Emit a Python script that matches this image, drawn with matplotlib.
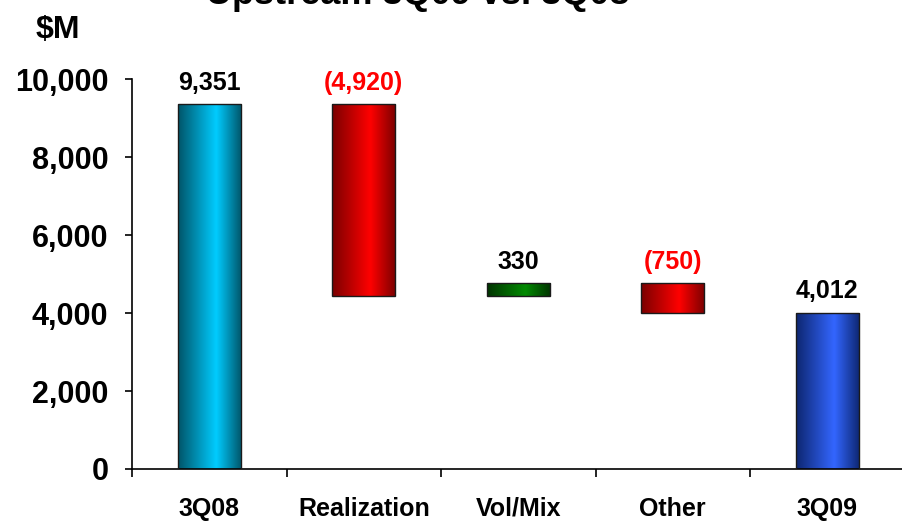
import numpy as np
import matplotlib
matplotlib.use('Agg')
import matplotlib.pyplot as plt
from matplotlib.colors import LinearSegmentedColormap

plt.rcParams['font.family'] = ['Liberation Sans', 'DejaVu Sans']
plt.rcParams['font.weight'] = 'bold'

# waterfall: start, changes, end ($M)
categories = ['3Q08', 'Realization', 'Vol/Mix', 'Other', '3Q09']
changes = [9351, -4920, 330, -750, 4012]
labels = ['9,351', '(4,920)', '330', '(750)', '4,012']
yticks = [0, 2000, 4000, 6000, 8000, 10000]
ytick_labels = ['0', '2,000', '4,000', '6,000', '8,000', '10,000']

# dark edge / bright centre shades for each bar
shades = [('#005468', '#00CCFF'), ('#7A0000', '#FF0000'), ('#003300', '#008A00'),
          ('#7A0000', '#FF0000'), ('#0D2670', '#3366FF')]
label_colors = ['black', 'red', 'black', 'red', 'black']

# bar bottoms: totals sit on zero, steps float on the running total
bottoms = []
heights = []
running = 0
for i, v in enumerate(changes):
    if i == 0 or i == len(changes) - 1:
        bottoms.append(0)
        heights.append(v)
        running = v
    else:
        if v >= 0:
            bottoms.append(running)
        else:
            bottoms.append(running + v)
        heights.append(abs(v))
        running += v

fig = plt.figure(figsize=(9.02, 5.21), dpi=100)
ax = fig.add_axes([132 / 902, 52 / 521, 772.5 / 902, 390 / 521])

x = np.arange(len(categories))
bars = ax.bar(x, heights, bottom=bottoms, width=0.41, facecolor='none',
              edgecolor='#1a1a1a', linewidth=1.0, zorder=3)

grad = np.linspace(0, 1, 256).reshape(1, -1)
for bar, (dark, bright) in zip(bars, shades):
    cmap = LinearSegmentedColormap.from_list(
        'g', [(0, dark), (0.6, bright), (1, dark)])
    x0 = bar.get_x()
    x1 = x0 + bar.get_width()
    y0 = bar.get_y()
    y1 = y0 + bar.get_height()
    im = ax.imshow(grad, extent=[x0, x1, y0, y1], aspect='auto', cmap=cmap,
                   interpolation='bicubic', zorder=2)
    im.set_clip_path(bar)

for bar, lab, col in zip(bars, labels, label_colors):
    top = bar.get_y() + bar.get_height()
    ax.text(bar.get_x() + bar.get_width() / 2, top + 250, lab, ha='center',
            va='bottom', fontsize=18, fontweight='bold', color=col)

ax.set_xlim(-0.5, len(categories) - 0.5)
ax.set_ylim(0, 10000)

ax.set_yticks(yticks)
ax.set_yticklabels(ytick_labels, fontsize=22, fontweight='bold')
ax.tick_params(axis='y', direction='out', length=5, width=1.2, pad=12)

ax.set_xticks(x)
ax.set_xticklabels(categories, fontsize=18, fontweight='bold')
ax.set_xticks(np.arange(len(categories) + 1) - 0.5, minor=True)
ax.tick_params(axis='x', which='major', length=0, pad=20)
ax.tick_params(axis='x', which='minor', direction='out', length=6, width=1.2)

for side in ['top', 'right']:
    ax.spines[side].set_visible(False)
for side in ['left', 'bottom']:
    ax.spines[side].set_linewidth(1.2)

fig.text(36 / 902, 1 - 38 / 521, '$M', fontsize=23, fontweight='bold',
         ha='left', va='baseline')
fig.text(418 / 902, 1 - 4 / 521, 'Upstream 3Q09 vs. 3Q08', fontsize=26,
         fontweight='bold', ha='center', va='baseline')

fig.savefig('out.png', dpi=100)
